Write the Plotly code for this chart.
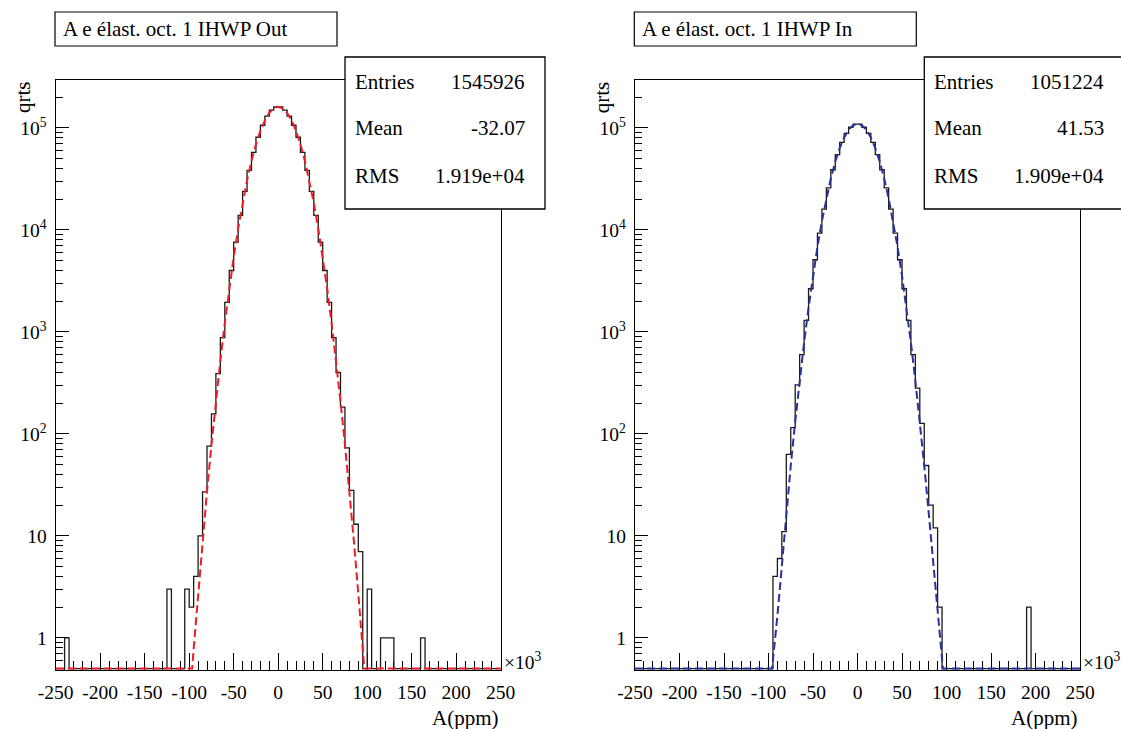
import plotly.graph_objects as go

W, H = 1121, 729

# ---------------- data (x in units of 10^3 ppm) ----------------
bin_edges = list(range(-250, 255, 5))

counts_out = [
    0, 0, 1, 0, 0, 0, 0, 0, 0, 0,
    0, 0, 0, 0, 0, 0, 0, 0, 0, 0,
    0, 0, 0, 0, 0, 3, 0, 0, 0, 3,
    2, 4, 10, 27, 76, 157, 390, 880, 1950, 4000,
    7600, 13900, 23900, 38400, 57700, 81000, 106300, 130300, 149200, 160500,
    160500, 149200, 130300, 106300, 81000, 57700, 38400, 23900, 13900, 7600,
    4000, 1950, 880, 400, 183, 73, 28, 13, 7, 0,
    3, 0, 0, 1, 1, 1, 0, 0, 0, 0,
    0, 0, 1, 0, 0, 0, 0, 0, 0, 0,
    0, 0, 0, 0, 0, 0, 0, 0, 0, 0,
]

counts_in = [
    0, 0, 0, 0, 0, 0, 0, 0, 0, 0,
    0, 0, 0, 0, 0, 0, 0, 0, 0, 0,
    0, 0, 0, 0, 0, 0, 0, 0, 0, 0,
    0, 4, 6, 11, 63, 115, 302, 600, 1300, 2650,
    5100, 9300, 16000, 25800, 38900, 54800, 72100, 88600, 101600, 108900,
    108900, 101600, 88600, 72100, 54800, 38900, 25800, 16000, 9300, 5100,
    2650, 1300, 600, 281, 127, 49, 20, 12, 2, 0,
    0, 0, 0, 0, 0, 0, 0, 0, 0, 0,
    0, 0, 0, 0, 0, 0, 0, 0, 2, 0,
    0, 0, 0, 0, 0, 0, 0, 0, 0, 0,
]

fit_x_out = [-250, -96.7, -95, -90, -85, -80, -75, -70, -65, -60, -55, -50, -45, -40, -35, -30,
             -25, -20, -15, -10, -5, 0, 5, 10, 15, 20, 25, 30, 35, 40, 45, 50, 55, 60, 65,
             70, 75, 80, 85, 90, 95, 96.7, 250]
fit_y_out = [0.5, 0.5, 0.78, 2.73, 8.94, 27.4, 78.3, 209, 522, 1220, 2660, 5420, 10330, 18400,
             30600, 47500, 69000, 93600, 118700, 140600, 155600, 161000, 155600, 140600,
             118700, 93600, 69000, 47500, 30600, 18400, 10330, 5420, 2660, 1220, 522, 209,
             78.3, 27.4, 8.94, 2.73, 0.78, 0.5, 0.5]

fit_x_in = [-250, -96, -90, -85, -80, -75, -70, -65, -60, -55, -50, -45, -40, -35, -30,
            -25, -20, -15, -10, -5, 0, 5, 10, 15, 20, 25, 30, 35, 40, 45, 50, 55, 60, 65,
            70, 75, 80, 85, 90, 96, 250]
fit_y_in = [0.5, 0.5, 1.64, 5.44, 16.9, 48.9, 132, 333, 786, 1730, 3560, 6820, 12220, 20400,
            31900, 46600, 63400, 80600, 95700, 106100, 109800, 106100, 95700, 80600, 63400,
            46600, 31900, 20400, 12220, 6820, 3560, 1730, 786, 333, 132, 48.9, 16.9, 5.44,
            1.64, 0.5, 0.5]

titles = ["A e élast. oct. 1 IHWP Out", "A e élast. oct. 1 IHWP In"]
stats_labels = ["Entries", "Mean", "RMS"]
stats_out = ["1545926", "-32.07", "1.919e+04"]
stats_in = ["1051224", "41.53", "1.909e+04"]

x_tick_vals = [-250, -200, -150, -100, -50, 0, 50, 100, 150, 200, 250]
x_tick_text = ["-250", "-200", "-150", "-100", "-50", "0", "50", "100", "150", "200", "250"]
y_tick_vals = [1, 10, 100, 1000, 10000, 100000]
y_tick_text = ["1", "10", "10<sup>2</sup>", "10<sup>3</sup>", "10<sup>4</sup>", "10<sup>5</sup>"]

# ---------------- styling / geometry ----------------
FONT = "Liberation Serif"
YMIN = 0.5
fit_colors = ["#ee1c24", "#26339a"]

x_minor = [v for v in range(-240, 250, 10) if v % 50 != 0]
y_minor = [m * 10 ** k for k in range(-1, 6) for m in range(2, 10)]
y_minor = [v for v in y_minor if 0.5 < v < 2.9e5]

panel_left = [55.7, 635.0]
panel_right = [500.7, 1080.0]
frame_top, frame_bottom = 80.0, 670.0


def px(x):
    return x / W


def py(y):
    return 1 - y / H


fig = go.Figure()

datasets = [(counts_out, fit_x_out, fit_y_out, stats_out), (counts_in, fit_x_in, fit_y_in, stats_in)]

for i, (counts, fx, fy, stats) in enumerate(datasets):
    xa = "x" if i == 0 else "x2"
    ya = "y" if i == 0 else "y2"
    yplot = [max(c, YMIN) for c in counts]
    yplot = yplot + [yplot[-1]]
    fig.add_trace(go.Scatter(x=bin_edges, y=yplot, mode="lines", line_shape="hv",
                             line=dict(color="#1a1a1a", width=1.3), xaxis=xa, yaxis=ya,
                             hoverinfo="skip"))
    fig.add_trace(go.Scatter(x=fx, y=fy, mode="lines",
                             line=dict(color=fit_colors[i], width=2, dash="8px,4px"),
                             xaxis=xa, yaxis=ya, hoverinfo="skip"))

    axis_common = dict(showline=True, linecolor="black", linewidth=1.3, mirror=True,
                       showgrid=False, zeroline=False, ticks="inside", tickcolor="black",
                       tickwidth=1, layer="below traces", automargin=False)
    xkey = "xaxis" if i == 0 else "xaxis2"
    ykey = "yaxis" if i == 0 else "yaxis2"
    fig.update_layout(**{
        xkey: dict(domain=[px(panel_left[i]), px(panel_right[i])], range=[-250, 250],
                   tickmode="array", tickvals=x_tick_vals, ticktext=x_tick_text,
                   ticklen=17, tickfont=dict(family=FONT, size=19.5, color="black"),
                   minor=dict(tickmode="array", tickvals=x_minor, ticks="inside", ticklen=9,
                              tickcolor="black", tickwidth=1, showgrid=False),
                   anchor=ya, ticklabelstandoff=4, **axis_common),
        ykey: dict(domain=[py(frame_bottom), py(frame_top)], type="log", range=[-0.315, 5.47],
                   tickmode="array", tickvals=y_tick_vals, ticktext=y_tick_text,
                   ticklen=13, tickfont=dict(family=FONT, size=19.5, color="black"),
                   minor=dict(tickmode="array", tickvals=y_minor, ticks="inside", ticklen=7,
                              tickcolor="black", tickwidth=1, showgrid=False),
                   anchor=xa, ticklabelstandoff=4, **axis_common),
    })

    off = panel_left[i] - panel_left[0]
    # title box
    fig.add_shape(type="rect", xref="paper", yref="paper",
                  x0=px(55 + off), x1=px(337 + off), y0=py(46), y1=py(12),
                  line=dict(color="black", width=1.2), fillcolor="white", layer="above")
    fig.add_annotation(xref="paper", yref="paper", x=px(61 + off), y=py(29), text=titles[i],
                       showarrow=False, xanchor="left", yanchor="middle",
                       font=dict(family=FONT, size=21, color="black"))
    # stats box
    fig.add_shape(type="rect", xref="paper", yref="paper",
                  x0=px(345 + off), x1=px(545 + off), y0=py(209), y1=py(57),
                  line=dict(color="black", width=1.3), fillcolor="white", layer="above")
    for j, (lab, val) in enumerate(zip(stats_labels, stats)):
        yy = [82, 128, 176][j]
        fig.add_annotation(xref="paper", yref="paper", x=px(353 + off), y=py(yy), text=lab,
                           showarrow=False, xanchor="left", yanchor="middle",
                           font=dict(family=FONT, size=21, color="black"))
        fig.add_annotation(xref="paper", yref="paper", x=px(527 + off), y=py(yy), text=val,
                           showarrow=False, xanchor="right", yanchor="middle",
                           font=dict(family=FONT, size=21, color="black"))
    # axis titles
    fig.add_annotation(xref="paper", yref="paper", x=px(panel_right[i]), y=py(718), text="A(ppm)",
                       showarrow=False, xanchor="right", yanchor="middle",
                       font=dict(family=FONT, size=21, color="black"))
    fig.add_annotation(xref="paper", yref="paper", x=px(23 + off), y=py(97), text="qrts",
                       textangle=-90, showarrow=False, xanchor="center", yanchor="middle",
                       font=dict(family=FONT, size=21, color="black"))
    fig.add_annotation(xref="paper", yref="paper", x=px(panel_right[i] + 1), y=py(661),
                       text="×10<sup>3</sup>", showarrow=False, xanchor="left", yanchor="middle",
                       font=dict(family=FONT, size=19.5, color="black"))

fig.update_layout(width=W, height=H, margin=dict(l=0, r=0, t=0, b=0, pad=0),
                  paper_bgcolor="white", plot_bgcolor="white", showlegend=False,
                  font=dict(family=FONT, size=20, color="black"))

fig.write_html("out.html", config={"displayModeBar": False},
               post_script="document.body.style.margin='0';")
